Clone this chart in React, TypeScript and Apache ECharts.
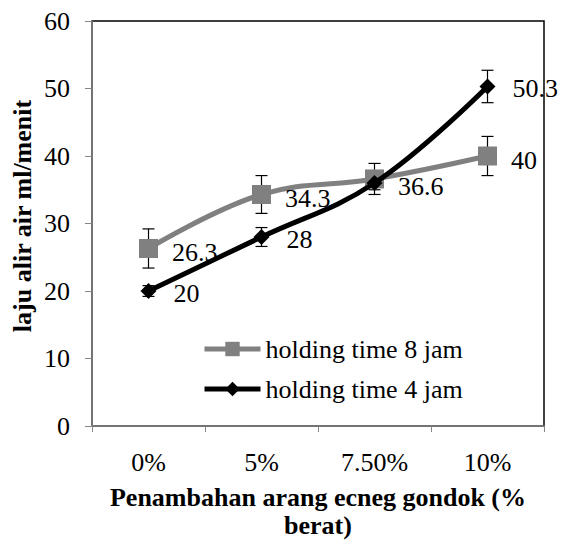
import React, { useEffect, useRef } from "react";
import * as echarts from "echarts";

const categories = ["0%", "5%", "7.50%", "10%"];
const series8Name = "holding time 8 jam";
const series4Name = "holding time 4 jam";
const values8 = [26.3, 34.3, 36.6, 40];
const values4 = [20, 28, 36, 50.3];
const errors8 = [2.9, 2.8, 2.3, 2.9];
const errors4 = [0.8, 1.4, 1.0, 2.4];
const labels8 = ["26.3", "34.3", "36.6", "40"];
const labels4 = ["20", "28", "", "50.3"];
const yTicks = [0, 10, 20, 30, 40, 50, 60];
const xTitle = "Penambahan arang ecneg gondok (%\nberat)";
const yTitle = "laju alir air ml/menit";

const FONT = "'Liberation Serif', 'Times New Roman', serif";
const FS = 26;

function errorData(vals: number[], errs: number[]) {
  return vals.map((v, i) => [i, v - errs[i], v + errs[i]]);
}

const renderError = (params: any, api: any) => {
  const x = api.value(0);
  const lo = api.coord([x, api.value(1)]);
  const hi = api.coord([x, api.value(2)]);
  const w = 6;
  const style = { stroke: "#000", lineWidth: 1.2 };
  return {
    type: "group",
    children: [
      { type: "line", shape: { x1: lo[0], y1: lo[1], x2: hi[0], y2: hi[1] }, style },
      { type: "line", shape: { x1: lo[0] - w, y1: lo[1], x2: lo[0] + w, y2: lo[1] }, style },
      { type: "line", shape: { x1: hi[0] - w, y1: hi[1], x2: hi[0] + w, y2: hi[1] }, style },
    ],
  };
};

export default function App() {
  const ref = useRef<HTMLDivElement>(null);
  useEffect(() => {
    if (!ref.current) return;
    const chart = echarts.init(ref.current, null, { renderer: "svg" });
    const labelStyle = {
      show: true,
      position: "right" as const,
      distance: 14,
      fontSize: FS,
      fontFamily: FONT,
      color: "#000",
    };
    const axisText = { fontSize: FS, fontFamily: FONT, color: "#000" };
    chart.setOption({
      animation: false,
      backgroundColor: "#fff",
      textStyle: { fontFamily: FONT },
      grid: {
        left: 92,
        right: 17,
        top: 21,
        bottom: 114,
        containLabel: false,
        outerBoundsMode: "none",
        show: true,
        borderColor: "#000",
        borderWidth: 1.5,
        backgroundColor: "transparent",
      },
      legend: {
        orient: "vertical",
        left: 197,
        top: 331,
        itemWidth: 56,
        itemHeight: 18,
        itemGap: 14,
        lineStyle: { width: 5 },
        textStyle: axisText,
        data: [series8Name, series4Name],
      },
      xAxis: {
        type: "category",
        data: categories,
        boundaryGap: true,
        axisLine: { show: true, lineStyle: { color: "#868686", width: 1.5 } },
        axisTick: { show: true, alignWithLabel: false, length: 6, lineStyle: { color: "#868686" } },
        axisLabel: { ...axisText, margin: 23 },
        name: xTitle,
        nameLocation: "middle",
        nameGap: 57,
        nameTextStyle: { fontSize: FS, fontWeight: "bold", fontFamily: FONT, color: "#000", lineHeight: 28 },
      },
      yAxis: {
        type: "value",
        min: 0,
        max: 60,
        interval: 10,
        axisLine: { show: true, lineStyle: { color: "#868686", width: 1.5 } },
        axisTick: { show: true, length: 7, lineStyle: { color: "#868686" } },
        splitLine: { show: false },
        axisLabel: {
          ...axisText,
          margin: 22,
          formatter: (v: number) => (yTicks.includes(v) ? String(v) : ""),
        },
      },
      graphic: [
        {
          type: "text",
          x: 22,
          y: 216,
          rotation: Math.PI / 2,
          style: {
            text: yTitle,
            fontSize: FS,
            fontWeight: "bold",
            fontFamily: FONT,
            fill: "#000",
            align: "center",
            verticalAlign: "middle",
          },
        },
      ],
      series: [
        {
          name: series8Name,
          type: "line",
          smooth: 0.4,
          data: values8.map((v, i) => ({
            value: v,
            label: { formatter: labels8[i], offset: [0, i === 2 ? 8 : 4] },
          })),
          symbol: "rect",
          symbolSize: 19,
          itemStyle: { color: "#808080" },
          lineStyle: { color: "#808080", width: 5 },
          label: labelStyle,
          z: 3,
        },
        {
          name: series4Name,
          type: "line",
          smooth: 0.4,
          data: values4.map((v, i) => ({
            value: v,
            label: { show: labels4[i] !== "", formatter: labels4[i], offset: [0, 2] },
          })),
          symbol: "diamond",
          symbolSize: 16,
          itemStyle: { color: "#000" },
          lineStyle: { color: "#000", width: 5 },
          label: { ...labelStyle, distance: 17 },
          z: 4,
        },
        {
          name: "err8",
          type: "custom",
          renderItem: renderError,
          data: errorData(values8, errors8),
          z: 2,
          silent: true,
        },
        {
          name: "err4",
          type: "custom",
          renderItem: renderError,
          data: errorData(values4, errors4),
          z: 2,
          silent: true,
        },
      ],
    });
    return () => chart.dispose();
  }, []);
  return <div ref={ref} style={{ width: 561, height: 540, position: "absolute", left: 0, top: 0 }} />;
}
